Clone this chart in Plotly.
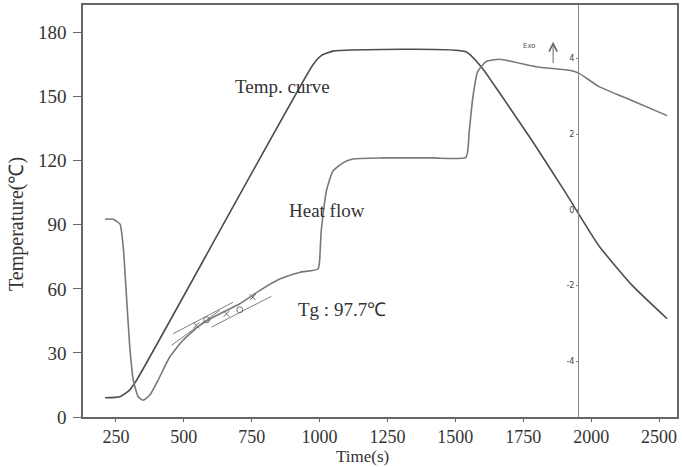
import plotly.graph_objects as go

# ---- data (time in s, values in the temperature scale) ----
temp_time = [210, 265, 300, 326, 975, 1006, 1049, 1074, 1539, 1600, 1662, 1784, 1907, 2029, 2152, 2280]
temp_vals = [9.0, 9.5, 12.6, 17.2, 164.8, 169.2, 171.3, 171.6, 171.0, 163.2, 151.9, 129.1, 104.8, 80.1, 61.5, 46.0]

hf_time = [210, 240, 265, 277, 289, 301, 314, 332, 350, 375, 405, 448, 497, 559, 620, 706, 779, 853, 926, 994,
           1000, 1006, 1025, 1049, 1086, 1122, 1233, 1416, 1539, 1551, 1564, 1582, 1613, 1662, 1797, 1925, 1956,
           2029, 2152, 2280]
hf_vals = [92.6, 92.6, 90.3, 79.4, 56.1, 32.8, 17.2, 9.5, 7.9, 10.3, 17.2, 28.1, 35.9, 42.9, 47.5, 53.0, 59.2,
           64.6, 67.7, 69.3, 73.2, 87.1, 105.8, 115.1, 119.0, 120.8, 121.3, 121.3, 121.6, 133.7, 149.3, 161.7,
           166.4, 167.5, 164.0, 162.2, 160.9, 154.7, 148.1, 141.1]

# Tg construction (tangent segments and marks)
tg_line_x = [461, 681, None, 455, 632, None, 602, 822]
tg_line_y = [39.0, 53.7, None, 33.6, 49.9, None, 42.1, 56.5]
tg_circle_x = [584, 706]
tg_circle_y = [45.5, 50.2]
tg_cross_x = [546, 657, 754]
tg_cross_y = [42.9, 48.3, 56.1]

x_tickvals = [250, 500, 750, 1000, 1250, 1500, 1750, 2000, 2250]
x_ticktext = ["250", "500", "750", "1000", "1250", "1500", "1750", "2000", "2500"]
y_tickvals = [0, 30, 60, 90, 120, 150, 180]
hf_axis_ticks = [-4, -2, 0, 2, 4]
hf_axis_text = ["-4", "-2", "0", "2", "4"]

SERIF = "Liberation Serif, Times New Roman, serif"
AX = "#666666"
TXT = "#333333"

fig = go.Figure()
fig.add_trace(go.Scatter(x=temp_time, y=temp_vals, mode="lines",
                         line=dict(color="#4d4d4d", width=1.6, shape="spline", smoothing=0.5),
                         showlegend=False, hoverinfo="skip"))
fig.add_trace(go.Scatter(x=hf_time, y=hf_vals, mode="lines",
                         line=dict(color="#787878", width=1.6, shape="spline", smoothing=0.5),
                         showlegend=False, hoverinfo="skip"))
fig.add_trace(go.Scatter(x=tg_line_x, y=tg_line_y, mode="lines",
                         line=dict(color="#808080", width=1), showlegend=False, hoverinfo="skip"))
fig.add_trace(go.Scatter(x=tg_circle_x, y=tg_circle_y, mode="markers",
                         marker=dict(symbol="circle-open", size=6, color="#707070", line=dict(width=1)),
                         showlegend=False, hoverinfo="skip"))
fig.add_trace(go.Scatter(x=tg_cross_x, y=tg_cross_y, mode="markers",
                         marker=dict(symbol="x-thin-open", size=6, color="#707070", line=dict(width=1)),
                         showlegend=False, hoverinfo="skip"))
# carrier for the inner heat-flow axis
fig.add_trace(go.Scatter(x=[], y=[], yaxis="y2", showlegend=False))

fig.update_layout(
    width=682, height=467,
    margin=dict(l=83, r=4, t=3, b=50),
    paper_bgcolor="white", plot_bgcolor="white",
    xaxis=dict(range=[128.7, 2316.2], tickvals=x_tickvals, ticktext=x_ticktext,
               showgrid=False, zeroline=False, showline=True, linecolor=AX, linewidth=1.5,
               mirror=True, ticks="outside", ticklen=3, tickcolor=AX,
               tickfont=dict(family=SERIF, size=18, color=TXT)),
    yaxis=dict(range=[0, 192.9], tickvals=y_tickvals,
               showgrid=False, zeroline=False, showline=True, linecolor=AX, linewidth=1.5,
               mirror=True, ticks="outside", ticklen=8, tickcolor=AX, ticklabelstandoff=3,
               tickfont=dict(family=SERIF, size=19, color=TXT)),
    yaxis2=dict(overlaying="y", anchor="free", position=0.8336, side="left",
                domain=[0.0411, 0.9203], range=[-5.48, 5.42],
                tickvals=hf_axis_ticks, ticktext=hf_axis_text,
                showgrid=False, zeroline=False, showline=True, linecolor="#888888", linewidth=1.2,
                ticks="outside", ticklen=2, tickcolor="#888888",
                tickfont=dict(family="DejaVu Sans", size=8, color="#444444")),
    annotations=[
        dict(text="Temperature(℃)", xref="paper", yref="paper", x=-0.111, y=0.4686,
             textangle=-90, showarrow=False, font=dict(family=SERIF, size=20, color=TXT),
             xanchor="center", yanchor="middle"),
        dict(text="Time(s)", xref="paper", yref="paper", x=0.4706, y=-0.1208,
             showarrow=False, font=dict(family=SERIF, size=17, color=TXT), borderpad=0,
             xanchor="center", yanchor="bottom"),
        dict(text="Temp. curve", x=864, y=154.7, showarrow=False,
             font=dict(family=SERIF, size=19, color=TXT)),
        dict(text="Heat flow", x=1028, y=96.7, showarrow=False,
             font=dict(family=SERIF, size=19, color=TXT)),
        dict(text="Tg : 97.7℃", x=1083, y=50.3, showarrow=False,
             font=dict(family=SERIF, size=19, color=TXT)),
        dict(text="Exo", x=1772, y=173.8, showarrow=False,
             font=dict(family="DejaVu Sans", size=7, color="#555555")),
        dict(text="", x=1860, y=175.7, ax=1860, ay=165.0, axref="x", ayref="y",
             showarrow=True, arrowhead=5, arrowsize=1.6, arrowwidth=1, arrowcolor="#666666"),
    ],
)

fig.write_html("out.html")
